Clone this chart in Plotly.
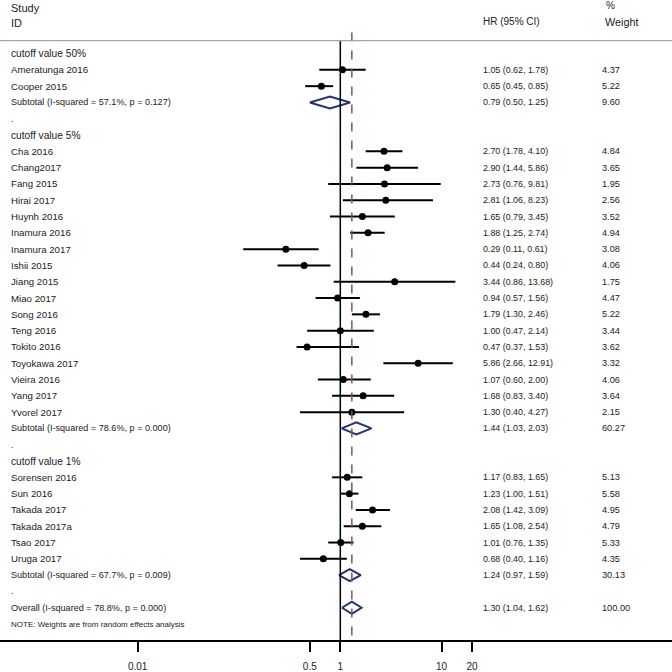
import plotly.graph_objects as go

# Studies per cutoff group: name, HR, lower, upper, weight
group_titles = ["cutoff value 50%", "cutoff value 5%", "cutoff value 1%"]

names_50 = ["Ameratunga 2016", "Cooper 2015"]
hr_50 = [1.05, 0.65]
lo_50 = [0.62, 0.45]
hi_50 = [1.78, 0.85]
wt_50 = [4.37, 5.22]

names_5 = ["Cha 2016", "Chang2017", "Fang 2015", "Hirai 2017", "Huynh 2016", "Inamura 2016",
           "Inamura 2017", "Ishii 2015", "Jiang 2015", "Miao 2017", "Song 2016", "Teng 2016",
           "Tokito 2016", "Toyokawa 2017", "Vieira 2016", "Yang 2017", "Yvorel 2017"]
hr_5 = [2.70, 2.90, 2.73, 2.81, 1.65, 1.88, 0.29, 0.44, 3.44, 0.94, 1.79, 1.00, 0.47, 5.86, 1.07, 1.68, 1.30]
lo_5 = [1.78, 1.44, 0.76, 1.06, 0.79, 1.25, 0.11, 0.24, 0.86, 0.57, 1.30, 0.47, 0.37, 2.66, 0.60, 0.83, 0.40]
hi_5 = [4.10, 5.86, 9.81, 8.23, 3.45, 2.74, 0.61, 0.80, 13.68, 1.56, 2.46, 2.14, 1.53, 12.91, 2.00, 3.40, 4.27]
wt_5 = [4.84, 3.65, 1.95, 2.56, 3.52, 4.94, 3.08, 4.06, 1.75, 4.47, 5.22, 3.44, 3.62, 3.32, 4.06, 3.64, 2.15]

names_1 = ["Sorensen 2016", "Sun 2016", "Takada 2017", "Takada 2017a", "Tsao 2017", "Uruga 2017"]
hr_1 = [1.17, 1.23, 2.08, 1.65, 1.01, 0.68]
lo_1 = [0.83, 1.00, 1.42, 1.08, 0.76, 0.40]
hi_1 = [1.65, 1.51, 3.09, 2.54, 1.35, 1.16]
wt_1 = [5.13, 5.58, 4.95, 4.79, 5.33, 4.35]

# Pooled estimates: HR, lower, upper, weight, I-squared, p
sub_hr = [0.79, 1.44, 1.24]
sub_lo = [0.50, 1.03, 0.97]
sub_hi = [1.25, 2.03, 1.59]
sub_wt = [9.60, 60.27, 30.13]
sub_i2 = [57.1, 78.6, 67.7]
sub_p = ["0.127", "0.000", "0.009"]

overall = dict(hr=1.30, lo=1.04, hi=1.62, wt=100.00, i2=78.8, p="0.000")

tick_vals = [0.01, 0.5, 1, 10, 20]
tick_text = ["0.01", "0.5", "1", "10", "20"]

groups = [
    (names_50, hr_50, lo_50, hi_50, wt_50),
    (names_5, hr_5, lo_5, hi_5, wt_5),
    (names_1, hr_1, lo_1, hi_1, wt_1),
]

DIAMOND = "#24336E"
DASH = "#944A52"
TXT = "#222222"
FONT = "Liberation Sans, Arial, sans-serif"

# font sizes tuned to the reference text widths
S_NAME, S_GROUP, S_SUB, S_NOTE, S_HR, S_WT = 9.7, 10.2, 9.1, 8.0, 8.9, 9.2

labels = []      # (row, text, size)
numbers = []     # (row, hr_text, wt_text)
ci_x, ci_y, pt_x, pt_y = [], [], [], []
diamonds = []    # (row, hr, lo, hi)

row = 0
for g, (names, hr, lo, hi, wt) in enumerate(groups):
    labels.append((row, group_titles[g], S_GROUP))
    row += 1
    for n, h, l, u, w in zip(names, hr, lo, hi, wt):
        labels.append((row, n, S_NAME))
        numbers.append((row, f"{h:.2f} ({l:.2f}, {u:.2f})", f"{w:.2f}"))
        ci_x += [l, u, None]
        ci_y += [row, row, None]
        pt_x.append(h)
        pt_y.append(row)
        row += 1
    labels.append((row, f"Subtotal (I-squared = {sub_i2[g]}%, p = {sub_p[g]})", S_SUB))
    numbers.append((row, f"{sub_hr[g]:.2f} ({sub_lo[g]:.2f}, {sub_hi[g]:.2f})", f"{sub_wt[g]:.2f}"))
    diamonds.append((row, sub_hr[g], sub_lo[g], sub_hi[g]))
    row += 1
    labels.append((row, ".", 9))
    row += 1

labels.append((row, f"Overall (I-squared = {overall['i2']}%, p = {overall['p']})", S_SUB))
numbers.append((row, f"{overall['hr']:.2f} ({overall['lo']:.2f}, {overall['hi']:.2f})", f"{overall['wt']:.2f}"))
diamonds.append((row, overall["hr"], overall["lo"], overall["hi"]))
row += 1
labels.append((row, "NOTE: Weights are from random effects analysis", S_NOTE))

fig = go.Figure()

# CI lines
fig.add_trace(go.Scatter(x=ci_x, y=ci_y, mode="lines",
                         line=dict(color="black", width=2), hoverinfo="skip", showlegend=False))
# point estimates
fig.add_trace(go.Scatter(x=pt_x, y=pt_y, mode="markers",
                         marker=dict(color="black", size=7, symbol="circle"), showlegend=False))

# pooled diamonds
h = 0.37
for r, est, l, u in diamonds:
    fig.add_trace(go.Scatter(x=[l, est, u, est, l], y=[r, r - h, r, r + h, r], mode="lines",
                             line=dict(color=DIAMOND, width=2), hoverinfo="skip", showlegend=False))

header_row = -0.79

# reference lines
fig.add_shape(type="line", xref="x", yref="y", x0=1, x1=1, y0=header_row, y1=36,
              line=dict(color="black", width=1.5))
fig.add_shape(type="line", xref="x", yref="y", x0=overall["hr"], x1=overall["hr"], y0=header_row - 0.5, y1=36,
              line=dict(color=DASH, width=1.5, dash="dash"))
# header rule
fig.add_shape(type="line", xref="paper", yref="y", x0=0, x1=1, y0=header_row, y1=header_row,
              line=dict(color="#A6A6A6", width=1.2))

W = 672.0
x_lab = 9 / W
x_hr = 481 / W
x_wt = 600 / W

annotations = []
def add_text(x, y, text, size):
    annotations.append(dict(x=x, y=y, xref="paper", yref="y", text=text, showarrow=False,
                            xanchor="left", yanchor="middle", font=dict(size=size, color=TXT, family=FONT)))

add_text(x_lab, -2.8, "Study", 11)
add_text(x_lab, -1.9, "ID", 11)
add_text(x_hr, -1.95, "HR (95% CI)", 10)
add_text(x_wt + 4 / W, -2.92, "%", 10)
add_text(x_wt + 3 / W, -1.95, "Weight", 10.8)

for r, t, s in labels:
    add_text(x_lab, r, t, s)
for r, ht, wt in numbers:
    add_text(x_hr, r, ht, S_HR)
    add_text(x_wt, r, wt, S_WT)

fig.update_layout(
    width=672, height=672,
    margin=dict(l=0, r=0, t=0, b=28),
    paper_bgcolor="white", plot_bgcolor="white",
    font=dict(family=FONT, color=TXT),
    annotations=annotations,
    showlegend=False,
    hovermode=False,
    xaxis=dict(type="log", range=[-3.359, 3.274], tickvals=tick_vals, ticktext=tick_text,
               ticks="outside", ticklen=10, tickwidth=1.5, tickcolor="black",
               showline=True, linecolor="black", linewidth=1.5, showgrid=False, zeroline=False,
               ticklabelstandoff=6,
               tickfont=dict(size=10, color=TXT, family=FONT), fixedrange=True),
    yaxis=dict(range=[35.98, -3.287], visible=False, fixedrange=True),
)

fig.write_html("out.html", config={"displayModeBar": False},
               post_script="document.body.style.margin='0px';")
